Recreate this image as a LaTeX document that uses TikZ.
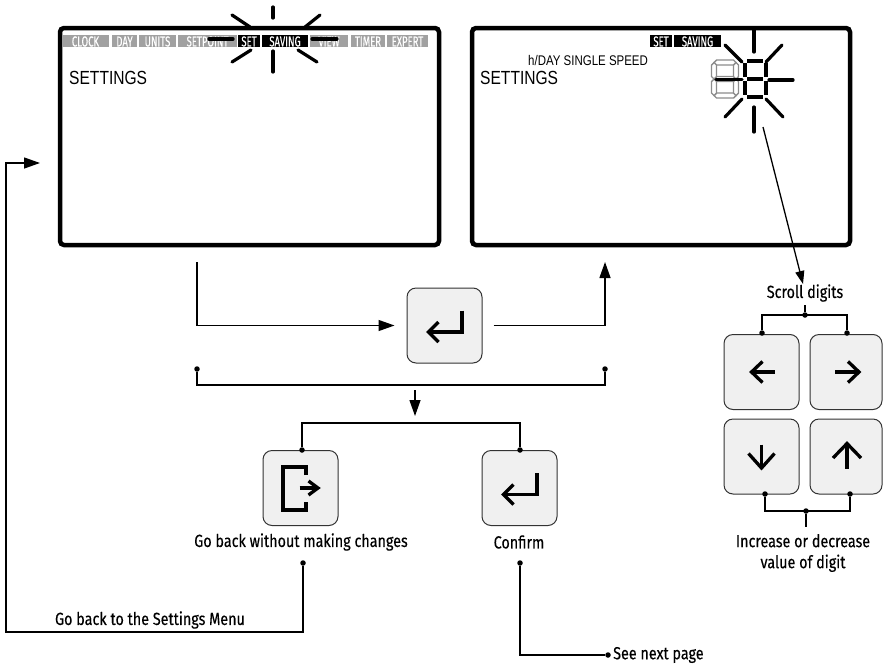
\documentclass[tikz,border=0pt]{standalone}
\usepackage{fontspec}
\setmainfont{Liberation Sans}
\newfontfamily\labf[FakeStretch=0.82,FakeBold=0.35]{Fira Sans}
\newfontfamily\barf[FakeStretch=0.66,FakeBold=0.3]{Fira Sans}
\newfontfamily\lcdf[FakeStretch=0.82]{Liberation Sans}
\usetikzlibrary{arrows.meta}
\tikzset{
  screen/.style={draw, line width=4.5pt, rounded corners=4pt, inner sep=0pt},
  btn/.style={draw=black!80, fill=black!6, line width=1pt, rounded corners=9pt, minimum width=75pt, minimum height=75pt, inner sep=0pt},
  icon/.style={line width=3.3pt},
  ray/.style={line width=3.2pt, line cap=round},
  conn/.style={line width=1.3pt},
  arr/.style={conn, -{Triangle[length=16pt,width=11pt]}},
  sarr/.style={conn, -{Triangle[length=13pt,width=9pt]}},
  dot/.style={circle, fill, inner sep=0pt, minimum size=5.5pt},
  lab/.style={font=\labf\fontsize{17.5}{20}\selectfont, inner sep=0pt},
  bart/.style={font=\barf\fontsize{14.5}{14.5}\selectfont, text=white, inner sep=0pt},
  lcd/.style={font=\lcdf\fontsize{19}{19}\selectfont, inner sep=0pt, anchor=west},
  gseg/.style={draw=black!45, line width=1.4pt, fill=white, line join=miter},
  kseg/.style={draw=black, line width=4pt}
}
\newcommand{\barseg}[4]{%
  \fill[#4] (#1,35) rectangle (#2,47);
  \node[bart] at ({(#1+#2)/2},41.5) {#3};}
\newcommand{\hsegm}[3]{\draw[gseg] (#1,#3) -- ({#1+2.5},{#3-2.5}) -- ({#2-2.5},{#3-2.5}) -- (#2,#3) -- ({#2-2.5},{#3+2.5}) -- ({#1+2.5},{#3+2.5}) -- cycle;}
\newcommand{\vsegm}[3]{\draw[gseg] (#1,#2) -- ({#1+2.5},{#2+2.5}) -- ({#1+2.5},{#3-2.5}) -- (#1,#3) -- ({#1-2.5},{#3-2.5}) -- ({#1-2.5},{#2+2.5}) -- cycle;}
\begin{document}
\begin{tikzpicture}[x=1pt,y=-1pt]
\useasboundingbox (0,0) rectangle (885,667);

% ---------- screens ----------
\node[screen, minimum width=379pt, minimum height=217pt] (scrA) at (249.5,136.5) {};
\node[screen, minimum width=378pt, minimum height=217pt] (scrB) at (661,136.5) {};

% title bar left screen
\barseg{62}{109}{CLOCK}{black!37}
\barseg{112}{137}{DAY}{black!37}
\barseg{139}{176}{UNITS}{black!37}
\begin{scope}
\clip (178,35) rectangle (237,47);
\barseg{178}{237}{SETPOINT}{black!37}
\end{scope}
\barseg{238}{260}{SET}{black}
\barseg{262}{308}{SAVING}{black}
\barseg{310}{348}{VIEW}{black!37}
\barseg{351}{385}{TIMER}{black!37}
\barseg{387}{428}{EXPERT}{black!37}
\node[lcd] (setA) at (69,78) {SETTINGS};

% burst left screen
\draw[ray] (273,7) -- (273,18);
\draw[ray] (273,51) -- (273,72);
\draw[ray] (232,15) -- (250,27);
\draw[ray] (305,27) -- (320,15);
\draw[ray] (209,39) -- (233,39);
\draw[ray] (312,39) -- (337,39);
\draw[ray] (232,62) -- (251,50);
\draw[ray] (298,50) -- (317,62);

% right screen content
\barseg{650}{672}{SET}{black}
\barseg{674}{721}{SAVING}{black}
\node[font=\lcdf\fontsize{14}{14}\selectfont, inner sep=0pt, anchor=west] (hday) at (528,60) {h/DAY SINGLE SPEED};
\node[lcd] (setB) at (480,78) {SETTINGS};

% gray digit (outlined segments)
\hsegm{714}{736}{62.5}
\hsegm{714}{736}{79}
\hsegm{714}{736}{95.5}
\vsegm{714}{62.5}{79}
\vsegm{736}{62.5}{79}
\vsegm{714}{79}{95.5}
\vsegm{736}{79}{95.5}
% black digit
\draw[kseg] (747,61) -- (763,61);
\draw[kseg] (744.5,63) -- (744.5,77);
\draw[kseg] (765.5,63) -- (765.5,77);
\draw[kseg] (747,79) -- (763,79);
\draw[kseg] (744.5,81) -- (744.5,95);
\draw[kseg] (765.5,81) -- (765.5,95);
\draw[kseg] (747,97) -- (763,97);

% burst right screen
\draw[ray] (754,29) -- (754,52);
\draw[ray] (754,107) -- (754,132);
\draw[ray] (769,80) -- (793,80);
\draw[ray] (716,79.5) -- (742,79.5);
\draw[ray] (725,45) -- (742,62);
\draw[ray] (766,62) -- (782,45);
\draw[ray] (725,117) -- (742,99);
\draw[ray] (766,99) -- (783,117);
\coordinate (burstB) at (763,127);

% ---------- buttons ----------
\node[btn] (ent) at (444.5,325.5) {};
\node[btn] (bl) at (761.5,372) {};
\node[btn, minimum width=72pt] (br) at (846,372) {};
\node[btn] (bd) at (761.5,456.5) {};
\node[btn, minimum width=72pt] (bu) at (846,456.5) {};
\node[btn] (bx) at (300.5,488) {};
\node[btn] (bc) at (519.5,488) {};

% enter icons
\foreach \b in {ent,bc}{
  \draw[icon] ([shift={(17.5,-15)}]\b.center) -- ([shift={(17.5,6.5)}]\b.center) -- ([shift={(-15.5,6.5)}]\b.center);
  \draw[icon] ([shift={(-6,-3.5)}]\b.center) -- ([shift={(-16,6.5)}]\b.center) -- ([shift={(-6,16.5)}]\b.center);
}
% left arrow
\draw[icon] ([shift={(-9,0)}]bl.center) -- ([shift={(13.5,0)}]bl.center);
\draw[icon] ([shift={(1,-10.5)}]bl.center) -- ([shift={(-10,0)}]bl.center) -- ([shift={(1,10.5)}]bl.center);
% right arrow
\draw[icon] ([shift={(-11,0)}]br.center) -- ([shift={(12,0)}]br.center);
\draw[icon] ([shift={(2,-10.5)}]br.center) -- ([shift={(13,0)}]br.center) -- ([shift={(2,10.5)}]br.center);
% down arrow
\draw[icon] ([shift={(0,-12)}]bd.center) -- ([shift={(0,10.5)}]bd.center);
\draw[icon] ([shift={(-13,-3)}]bd.center) -- ([shift={(0,11.5)}]bd.center) -- ([shift={(13,-3)}]bd.center);
% up arrow
\draw[icon] ([shift={(1,12)}]bu.center) -- ([shift={(1,-12)}]bu.center);
\draw[icon] ([shift={(-13,1.5)}]bu.center) -- ([shift={(1,-13)}]bu.center) -- ([shift={(15,1.5)}]bu.center);
% exit icon
\draw[icon] ([shift={(5.5,-13)}]bx.center) -- ([shift={(5.5,-21)}]bx.center) -- ([shift={(-17.5,-21)}]bx.center)
  -- ([shift={(-17.5,22)}]bx.center) -- ([shift={(5.5,22)}]bx.center) -- ([shift={(5.5,14)}]bx.center);
\draw[icon] ([shift={(-1,0)}]bx.center) -- ([shift={(16.5,0)}]bx.center);
\draw[icon] ([shift={(8,-7)}]bx.center) -- ([shift={(17.5,0)}]bx.center) -- ([shift={(8,7)}]bx.center);

% ---------- labels ----------
\node[lab] (scroll) at (805,293) {Scroll digits};
\node[lab] (gbw) at (301,542) {Go back without making changes};
\node[lab] (conf) at (519,542) {Confirm};
\node[lab, align=center] (incr) at (803,553) {Increase or decrease\\[1pt]value of digit};
\node[lab] (gbs) at (150,620) {Go back to the Settings Menu};
\node[lab, anchor=west] (next) at (613,655) {See next page};

% ---------- connectors ----------
\coordinate (a1) at (197,262);
\coordinate (a2) at (605,262);
\draw[arr] (a1) |- ([xshift=-12pt]ent.west);
\draw[arr] ([xshift=11pt]ent.east) -| (a2);

\node[dot] (d1) at (197,369) {};
\node[dot] (d2) at (605,369) {};
\draw[conn] (d1) -- (197,385) -- (605,385) -- (d2);
\coordinate (m1) at (415,390);
\coordinate (m2) at (415,416);
\draw[arr] (m1) -- (m2);

\node[dot] (dx) at (302,450) {};
\node[dot] (dc) at (520,450) {};
\draw[conn] (dx) -- (302,423) -- (520,423) -- (dc);

\node[dot] (ex1) at (303,563) {};
\node[dot] (cf1) at (520,563) {};
\coordinate (back) at (40,163);
\draw[arr] (ex1) -- (303,632) -- (6,632) -- (6,163) -- (back);
\node[dot] (nx) at (608,655) {};
\draw[conn] (cf1) -- (520,655) -- (nx);

% scroll digits
\draw[sarr] (burstB) -- (803,284);
\node[dot] (sc) at (805,315) {};
\node[dot] (sl) at (762,333) {};
\node[dot] (sr) at (847,333) {};
\draw[conn] (805,305) -- (sc);
\draw[conn] (sl) -- (762,315) -- (847,315) -- (sr);

% increase / decrease
\node[dot] (il) at (765,494) {};
\node[dot] (ir) at (850,494) {};
\node[dot] (ic) at (806,511) {};
\draw[conn] (il) -- (765,511) -- (850,511) -- (ir);
\draw[conn] (ic) -- (806,527);
\end{tikzpicture}
\end{document}
